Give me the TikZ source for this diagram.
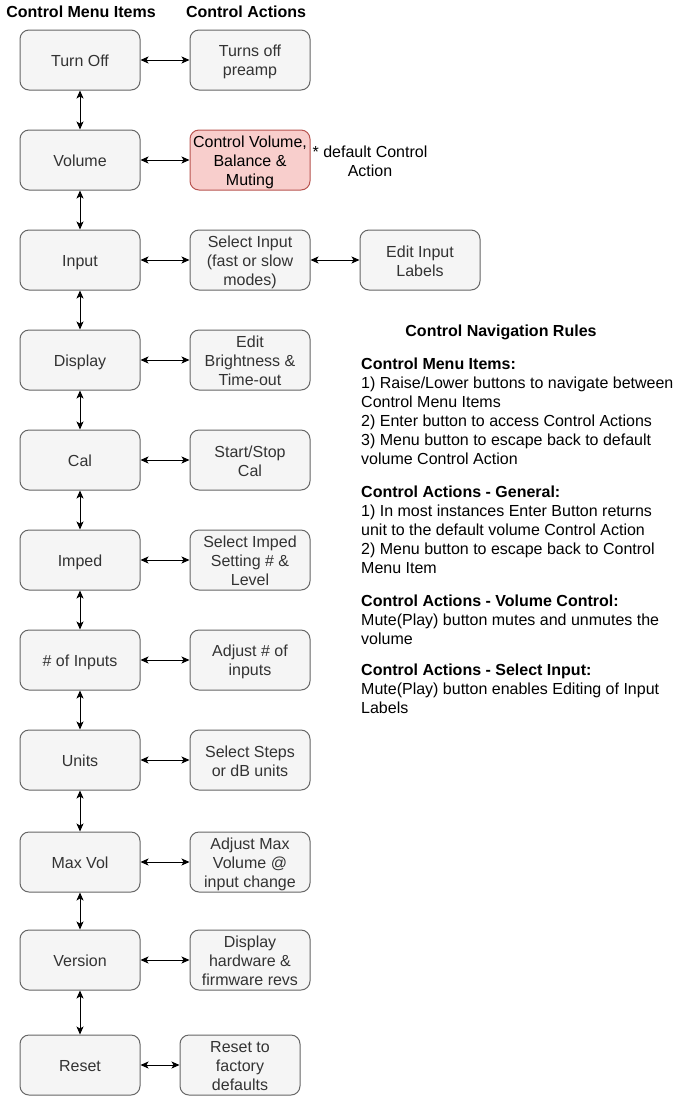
\documentclass[tikz,border=0pt]{standalone}
\usepackage{fontspec}
\setmainfont{Liberation Sans}
\usetikzlibrary{arrows.meta}
\definecolor{boxfill}{HTML}{F5F5F5}
\definecolor{boxline}{HTML}{666666}
\definecolor{boxtext}{HTML}{333333}
\definecolor{redfill}{HTML}{F8CECC}
\definecolor{redline}{HTML}{B85450}
\newcommand{\linetop}{\rule{0pt}{16pt}}
\newcommand{\linebot}{\rule[-3pt]{0pt}{3pt}}
\tikzset{
	menubox/.style={draw=boxline, fill=boxfill, text=boxtext, rounded corners=9pt, line width=1pt,
		minimum width=120pt, minimum height=60pt, inner sep=0pt, align=center},
	redbox/.style={menubox, draw=redline, fill=redfill, text=black},
	nav/.style={{Stealth[length=8pt, width=7pt, inset=2pt]}-{Stealth[length=8pt, width=7pt, inset=2pt]}, line width=1pt}
}
\begin{document}
	\begin{tikzpicture}[x=1pt, y=-1pt, font=\fontsize{16}{19}\selectfont]
		\useasboundingbox (0,0) rectangle (681,1096);

		\node (hmenu) at (81,12) {\textbf{Control Menu Items}};
		\node (hact) at (246,12) {\textbf{Control Actions}};

		\node[menubox] (turnoff) at (80,60) {\linetop Turn Off\linebot};
		\node[menubox] (volume) at (80,160) {\linetop Volume\linebot};
		\node[menubox] (input) at (80,260) {\linetop Input\linebot};
		\node[menubox] (display) at (80,360) {\linetop Display\linebot};
		\node[menubox] (cal) at (80,460) {\linetop Cal\linebot};
		\node[menubox] (imped) at (80,560) {\linetop Imped\linebot};
		\node[menubox] (ninputs) at (80,660) {\linetop \# of Inputs\linebot};
		\node[menubox] (units) at (80,760) {\linetop Units\linebot};
		\node[menubox] (maxvol) at (80,862) {\linetop Max Vol\linebot};
		\node[menubox] (version) at (80,960) {\linetop Version\linebot};
		\node[menubox] (reset) at (80,1065) {\linetop Reset\linebot};

		\node[menubox] (aturnoff) at (250,60) {\linetop Turns off\\preamp\linebot};
		\node[redbox] (avolume) at (250,160) {\linetop Control Volume,\\Balance \&\\Muting\linebot};
		\node[menubox] (ainput) at (250,260) {\linetop Select Input\\(fast or slow\\modes)\linebot};
		\node[menubox] (editlabels) at (420,260) {\linetop Edit Input\\Labels\linebot};
		\node[menubox] (adisplay) at (250,360) {\linetop Edit\\Brightness \&\\Time-out\linebot};
		\node[menubox] (acal) at (250,460) {\linetop Start/Stop\\Cal\linebot};
		\node[menubox] (aimped) at (250,560) {\linetop Select Imped\\Setting \# \&\\Level\linebot};
		\node[menubox] (aninputs) at (250,660) {\linetop Adjust \# of\\inputs\linebot};
		\node[menubox] (aunits) at (250,760) {\linetop Select Steps\\or dB units\linebot};
		\node[menubox] (amaxvol) at (250,862) {\linetop Adjust Max\\Volume @\\input change\linebot};
		\node[menubox] (aversion) at (250,960) {\linetop Display\\hardware \&\\firmware revs\linebot};
		\node[menubox] (areset) at (240,1065) {\linetop Reset to\\factory\\defaults\linebot};

		\node[align=center] (default) at (370,161) {* default Control\\Action};

		\node (rules) at (501,332) {\textbf{Control Navigation Rules}};
		\node[anchor=north west, align=left, inner sep=0pt] (ruletext) at (361,358) {%
			\textbf{Control Menu Items:}\\
			1) Raise/Lower buttons to navigate between\\
			Control Menu Items\\
			2) Enter button to access Control Actions\\
			3) Menu button to escape back to default\\
			volume Control Action\\[14pt]
			\textbf{Control Actions - General:}\\
			1) In most instances Enter Button returns\\
			unit to the default volume Control Action\\
			2) Menu button to escape back to Control\\
			Menu Item\\[14pt]
			\textbf{Control Actions - Volume Control:}\\
			Mute(Play) button mutes and unmutes the\\
			volume\\[12pt]
			\textbf{Control Actions - Select Input:}\\
			Mute(Play) button enables Editing of Input\\
			Labels};

		\draw[nav] (turnoff) -- (volume);
		\draw[nav] (volume) -- (input);
		\draw[nav] (input) -- (display);
		\draw[nav] (display) -- (cal);
		\draw[nav] (cal) -- (imped);
		\draw[nav] (imped) -- (ninputs);
		\draw[nav] (ninputs) -- (units);
		\draw[nav] (units) -- (maxvol);
		\draw[nav] (maxvol) -- (version);
		\draw[nav] (version) -- (reset);

		\draw[nav] (turnoff) -- (aturnoff);
		\draw[nav] (volume) -- (avolume);
		\draw[nav] (input) -- (ainput);
		\draw[nav] (ainput) -- (editlabels);
		\draw[nav] (display) -- (adisplay);
		\draw[nav] (cal) -- (acal);
		\draw[nav] (imped) -- (aimped);
		\draw[nav] (ninputs) -- (aninputs);
		\draw[nav] (units) -- (aunits);
		\draw[nav] (maxvol) -- (amaxvol);
		\draw[nav] (version) -- (aversion);
		\draw[nav] (reset) -- (areset);
	\end{tikzpicture}
\end{document}
